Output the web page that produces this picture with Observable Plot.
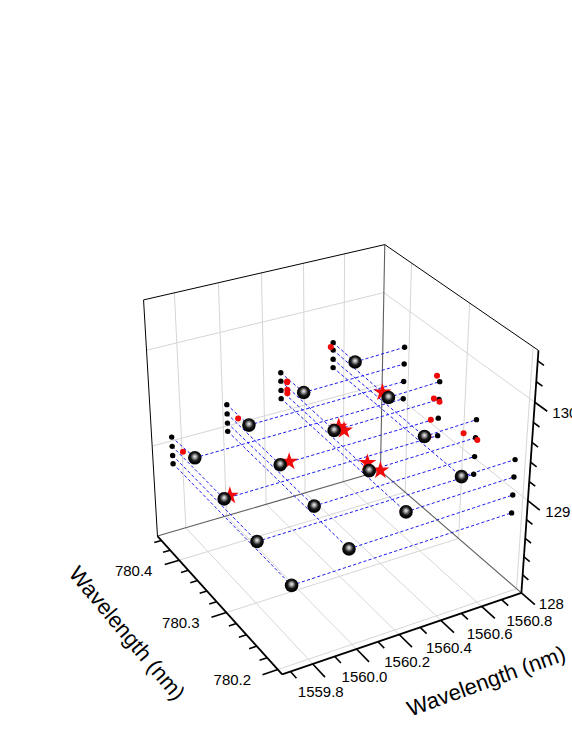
<!DOCTYPE html>
<html><head><meta charset="utf-8">
<style>html,body{margin:0;padding:0;background:#fff;overflow:hidden}svg{display:block}</style>
<script src="https://cdn.jsdelivr.net/npm/d3@7"></script>
<script src="https://cdn.jsdelivr.net/npm/@observablehq/plot@0.6"></script>
</head><body>
<svg width="0" height="0" style="position:absolute"><defs>
<radialGradient id="ball" cx="0.5" cy="0.46" r="0.55" fx="0.5" fy="0.4">
<stop offset="0" stop-color="#f2f2f2"/><stop offset="0.22" stop-color="#a8a8a8"/><stop offset="0.55" stop-color="#1a1a1a"/><stop offset="0.85" stop-color="#000"/><stop offset="1" stop-color="#222"/>
</radialGradient></defs></svg>
<div id="c"></div>
<script>
// Data (nm, nm, z value)
const xDomain = [1559.663, 1560.8];
const yDomain = [780.192, 780.449];
const zDomain = [128, 130.5];
const sphereY = [780.211, 780.275, 780.339, 780.403];
const sphereX = [
  [1559.755, 1560.011, 1560.270, 1560.527],
  [1559.755, 1560.015, 1560.270, 1560.531],
  [1559.755, 1560.015, 1560.270, 1560.531],
  [1559.764, 1560.020, 1560.284, 1560.536]
];
const sphereZ = [
  [128.75, 128.94, 129.14, 129.33],
  [128.84, 129.03, 129.23, 129.42],
  [128.94, 129.13, 129.33, 129.52],
  [129.04, 129.23, 129.42, 129.60]
];
const rightDotZ = [
  [128.78, 128.97, 129.16, 129.34],
  [128.86, 129.05, 129.25, 129.44],
  [128.96, 129.15, 129.35, 129.54],
  [129.06, 129.25, 129.44, 129.62]
];
const leftDotX = [1559.755, 1560.02, 1560.284, 1560.545];
const rightDotX = 1560.785;
const starX = [1559.816, 1560.088, 1560.315, 1560.315, 1560.315, 1560.315, 1560.515];
const starY = [780.355, 780.352, 780.348, 780.338, 780.295, 780.272, 780.344];
const starZ = [128.85, 129.05, 129.30, 129.31, 129.18, 129.22, 129.56];
const redLeftX = [1559.804, 1560.072, 1560.315, 1560.315, 1560.315, 1560.315, 1560.533];
const redRightZ = [128.87, 129.07, 129.32, 129.33, 129.20, 129.24, 129.58];
const xMajor = [1559.8, 1560.0, 1560.2, 1560.4, 1560.6, 1560.8];
const xMinor = [1559.7, 1559.9, 1560.1, 1560.3, 1560.5, 1560.7];
const yMajor = [780.2, 780.3, 780.4];
const yMinor = [780.22, 780.24, 780.26, 780.28, 780.32, 780.34, 780.36, 780.38, 780.42, 780.44];
const zMajor = [128, 129, 130];
const zMinor = [128.2, 128.4, 128.6, 128.8, 129.2, 129.4, 129.6, 129.8, 130.2, 130.4];
const xLabels = ["1559.8", "1560.0", "1560.2", "1560.4", "1560.6", "1560.8"];
const yLabels = ["780.2", "780.3", "780.4"];
const zLabels = ["128", "129", "130"];
const axisTitle = "Wavelength (nm)";

// Camera: frame anchors (box fractions -> page position), fitted to a perspective matrix
const anchors = [
  [0,0,0,281.7,675],[1,0,0,520.7,591],[0,1,0,156.7,534],[1,1,0,380,472],
  [1,0,1,537.3,349.3],[0,1,1,143.3,300],[1,1,1,384.3,243.3],
  [1,0,0.4,528,500],[1,0,0.8,534.5,403]
];
function fit() {
  const n = 11, A = d3.range(n).map(() => new Array(n + 1).fill(0));
  const add = (r, t) => { for (let i = 0; i < n; i++) { for (let j = 0; j < n; j++) A[i][j] += r[i]*r[j]; A[i][n] += r[i]*t; } };
  for (const [u,v,w,X,Y] of anchors) {
    add([u,v,w,1,0,0,0,0,-u*X,-v*X,-w*X], X);
    add([0,0,0,0,u,v,w,1,-u*Y,-v*Y,-w*Y], Y);
  }
  for (let i = 0; i < n; i++) {
    let p = i; for (let k = i+1; k < n; k++) if (Math.abs(A[k][i]) > Math.abs(A[p][i])) p = k;
    [A[i],A[p]] = [A[p],A[i]];
    for (let k = 0; k < n; k++) if (k !== i) { const f = A[k][i]/A[i][i]; for (let j = i; j <= n; j++) A[k][j] -= f*A[i][j]; }
  }
  return A.map((r,i) => r[n]/r[i]);
}
const m = fit();
const U = d3.scaleLinear(xDomain,[0,1]), V = d3.scaleLinear(yDomain,[0,1]), W = d3.scaleLinear(zDomain,[0,1]);
const P = (x,y,z) => {
  const u=U(x), v=V(y), w=W(z), d=m[8]*u+m[9]*v+m[10]*w+1;
  return [(m[0]*u+m[1]*v+m[2]*w+m[3])/d, (m[4]*u+m[5]*v+m[6]*w+m[7])/d];
};
const [x0,x1]=xDomain,[y0,y1]=yDomain,[z0,z1]=zDomain;
const seg = (a,b) => { const p=P(...a), q=P(...b); return {x1:p[0],y1:p[1],x2:q[0],y2:q[1]}; };
const pt = (...a) => { const p=P(...a); return {x:p[0],y:p[1]}; };
const linkMark = (data,opts) => Plot.link(data,{x1:"x1",y1:"y1",x2:"x2",y2:"y2",...opts});

// grid
const grid = [
  ...xMajor.slice(0,-1).flatMap(x => [seg([x,y0,z0],[x,y1,z0]), seg([x,y1,z0],[x,y1,z1])]),
  ...yMajor.flatMap(y => [seg([x0,y,z0],[x1,y,z0]), seg([x1,y,z0],[x1,y,z1])]),
  ...zMajor.slice(1).flatMap(z => [seg([x0,y1,z],[x1,y1,z]), seg([x1,y1,z],[x1,y0,z])])
];
const backEdges = [seg([x0,y1,z0],[x1,y1,z0]), seg([x1,y1,z0],[x1,y0,z0]), seg([x1,y1,z0],[x1,y1,z1])];
const topEdges = [seg([x0,y1,z0],[x0,y1,z1]), seg([x0,y1,z1],[x1,y1,z1]), seg([x1,y1,z1],[x1,y0,z1])];
const axes = [seg([x0,y0,z0],[x1,y0,z0]), seg([x0,y0,z0],[x0,y1,z0]), seg([x1,y0,z0],[x1,y0,z1])];
const dyTickM = 0.022, dyTickm = 0.011, dxTickM = 0.068, dxTickm = 0.034;
const ticksMajor = [
  ...xMajor.map(x => seg([x,y0,z0],[x,y0-dyTickM,z0])),
  ...yMajor.map(y => seg([x0,y,z0],[x0-dxTickM,y,z0])),
  ...zMajor.slice(1).map(z => seg([x1,y0,z],[x1,y0-dyTickM*0.85,z]))
];
const ticksMinor = [
  ...xMinor.map(x => seg([x,y0,z0],[x,y0-dyTickm,z0])),
  ...yMinor.map(y => seg([x0,y,z0],[x0-dxTickm,y,z0])),
  ...zMinor.map(z => seg([x1,y0,z],[x1,y0-dyTickm*0.85,z]))
];
// points and drop lines
const spheres = [], leftDots = [], rightDots = [], drops = [];
sphereY.forEach((y,j) => sphereX[j].forEach((x,i) => {
  const z = sphereZ[j][i], ld = [leftDotX[i],y1,z], rd = [rightDotX,y,rightDotZ[j][i]];
  spheres.push(pt(x,y,z)); leftDots.push(pt(...ld)); rightDots.push(pt(...rd));
  drops.push(seg(ld,[x,y,z]), seg([x,y,z],rd));
}));
const stars = starX.map((x,i) => pt(x,starY[i],starZ[i]));
const redDots = starX.flatMap((x,i) => [pt(redLeftX[i],y1,starZ[i]), pt(rightDotX,starY[i],redRightZ[i])]);
const xT = xMajor.map((x,i) => ({...pt(x,y0,z0), t:xLabels[i]}));
const yT = yMajor.map((y,i) => ({...pt(x0,y,z0), t:yLabels[i]}));
const zT = zMajor.map((z,i) => ({...pt(x1,y0,z), t:zLabels[i]}));
const font = {fontFamily:"Liberation Sans, Arial, sans-serif", fill:"#000"};

const chart = Plot.plot({
  width:572, height:740, margin:0,
  x:{domain:[0,572],range:[0,572],axis:null},
  y:{domain:[0,740],range:[0,740],axis:null},
  style:{background:"#fff"},
  marks:[
    linkMark(grid,{stroke:"#d6d6d6",strokeWidth:1}),
    linkMark(backEdges,{stroke:"#5f5f5f",strokeWidth:1.1}),
    linkMark(topEdges,{stroke:"#000",strokeWidth:1}),
    linkMark(ticksMinor,{stroke:"#000",strokeWidth:1.6}),
    linkMark(ticksMajor,{stroke:"#000",strokeWidth:1.6}),
    linkMark(axes,{stroke:"#000",strokeWidth:1.8}),
    linkMark(drops,{stroke:"#1c1cf0",strokeWidth:1,strokeDasharray:"3.2,2.2"}),
    Plot.dot(leftDots,{x:"x",y:"y",r:2.7,fill:"#000"}),
    Plot.dot(rightDots,{x:"x",y:"y",r:2.7,fill:"#000"}),
    Plot.dot(redDots,{x:"x",y:"y",r:3,fill:"#f00a0a"}),
    Plot.dot(stars,{x:"x",y:"y",r:5.6,symbol:"star",fill:"#f00a0a"}),
    Plot.dot(spheres,{x:"x",y:"y",r:6.8,fill:"url(#ball)"}),
    Plot.text(xT,{x:"x",y:"y",text:"t",dx:8,dy:28,fontSize:15,...font}),
    Plot.text(yT,{x:"x",y:"y",text:"t",dx:-45.5,dy:11,fontSize:15,...font}),
    Plot.text(zT,{x:"x",y:"y",text:"t",dx:30,dy:11,fontSize:15,...font}),
    Plot.text([{x:126.2,y:633}],{x:"x",y:"y",text:()=>axisTitle,rotate:50,fontSize:22,...font}),
    Plot.text([{x:486,y:681}],{x:"x",y:"y",text:()=>axisTitle,rotate:-20,fontSize:22,...font})
  ]
});
document.getElementById("c").append(chart);
</script>
</body></html>
